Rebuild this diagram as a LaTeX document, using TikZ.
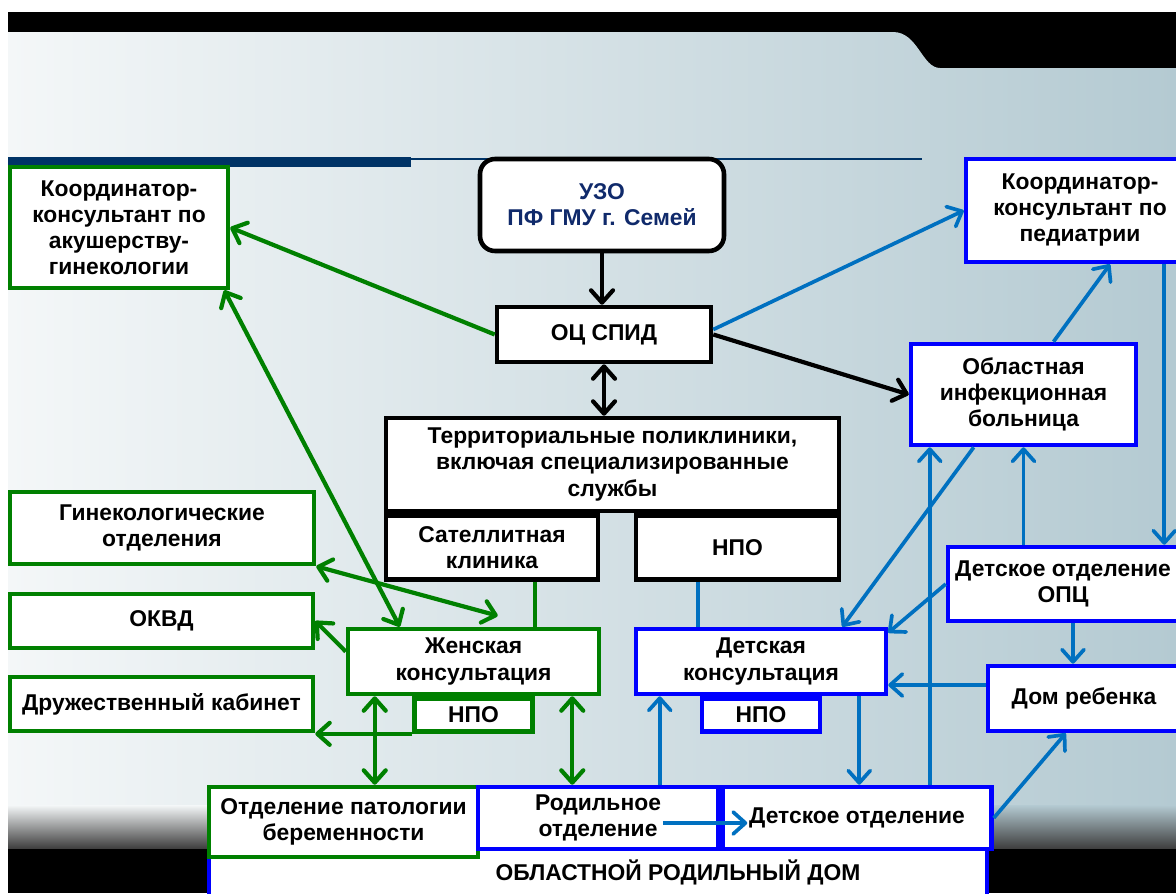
\documentclass[tikz,border=0pt]{standalone}
\usepackage{fontspec}
\setmainfont{Liberation Sans}
\usepackage{xcolor}
\definecolor{orgGreen}{HTML}{008000}
\definecolor{orgBlue}{HTML}{0000FF}
\definecolor{linkBlue}{HTML}{0070C0}
\definecolor{ruleNavy}{HTML}{003366}
\definecolor{uzoText}{HTML}{102A6B}
\definecolor{panelLeft}{HTML}{F4F7F8}
\definecolor{panelRight}{HTML}{B4CAD2}
\usepackage{tikz}
\usetikzlibrary{%
    arrows.meta,
    positioning,
    calc
}

\begin{document}
\begin{tikzpicture}[x=0.02cm, y=-0.02cm, node distance=0pt,
                >={Straight Barb[length=7pt,width=12.5pt,round]},
                unit/.style={rectangle, fill=white, text=black, align=center, inner sep=0pt, line width=2.6pt, font=\fontsize{13}{14.8}\selectfont\bfseries},
                greenbox/.style={unit, draw=orgGreen},
                bluebox/.style={unit, draw=orgBlue},
                blackbox/.style={unit, draw=black},
                gflow/.style={draw=orgGreen, line width=2.4pt},
                bflow/.style={draw=linkBlue, line width=2.1pt},
                kflow/.style={draw=black, line width=2.4pt}
            ]

            \useasboundingbox (0,0) rectangle (1176,893);
            \clip (0,0) rectangle (1176,893);

            % slide background
            \fill[white] (0,0) rectangle (1176,893);
            \fill[black] (8,12) rectangle (1176,893);
            \shade[left color=panelLeft, right color=panelRight] (8,848) -- (8,32) -- (893,32) .. controls (918,32) and (922,68) .. (940,68) -- (1176,68) -- (1176,848) -- cycle;
            \shade[top color=panelLeft, bottom color=black!75] (8,805) rectangle (212,848);
            \shade[top color=panelRight, bottom color=black!75] (985,805) rectangle (1176,848);
            \fill[ruleNavy] (8,157) rectangle (411,167);
            \draw[ruleNavy, line width=1.2pt] (411,159) -- (922,159);

            % maternity hospital frame
            \node (oblRod) [bluebox, minimum width=15.56cm, minimum height=2.26cm] at (598,843.5) {};
            \node (oblRodTxt) at (678,872) [font=\fontsize{13}{14.8}\selectfont\bfseries] {ОБЛАСТНОЙ РОДИЛЬНЫЙ ДОМ};

            \node (koordAG) [greenbox, minimum width=4.36cm, minimum height=2.42cm] at (119,227.5) {Координатор-\\консультант по\\акушерству-\\гинекологии};
            \node (uzo) [blackbox, rounded corners=0.3cm, minimum width=4.88cm, minimum height=1.84cm, text=uzoText] at (602,205) {УЗО\\ПФ ГМУ г. Семей};
            \node (koordPed) [bluebox, minimum width=4.56cm, minimum height=2.06cm] at (1080,210.5) {Координатор-\\консультант по\\педиатрии};

            \node (ocspid) [blackbox, minimum width=4.28cm, minimum height=1.10cm] at (604,334.5) {ОЦ СПИД};
            \node (terr) [blackbox, minimum width=9.06cm, minimum height=1.86cm] at (612.5,464.5) {Территориальные поликлиники,\\включая специализированные\\службы};
            \node (sat) [blackbox, minimum width=4.24cm, minimum height=1.28cm, below right=of terr.south west] {Сателлитная\\клиника};
            \node (npoTop) [blackbox, minimum width=4.06cm, minimum height=1.28cm, below left=of terr.south east] {НПО};

            \node (oblInf) [bluebox, minimum width=4.5cm, minimum height=2.02cm] at (1023.5,394.5) {Областная\\инфекционная\\больница};
            \node (detOPC) [bluebox, minimum width=4.6cm, minimum height=1.48cm] at (1063,584) {Детское отделение\\ОПЦ};

            \node (gyn) [greenbox, minimum width=6.08cm, minimum height=1.44cm] at (162,528) {Гинекологические\\отделения};
            \node (okvd) [greenbox, minimum width=6.06cm, minimum height=1.08cm] at (161.5,621) {ОКВД};
            \node (druzh) [greenbox, minimum width=6.06cm, minimum height=1.08cm] at (161.5,704) {Дружественный кабинет};

            \node (zhk) [greenbox, minimum width=5.02cm, minimum height=1.30cm] at (473.5,661.5) {Женская\\консультация};
            \node (npoZ) [greenbox, minimum width=2.36cm, minimum height=0.66cm, below=of zhk] {НПО};
            \node (detK) [bluebox, minimum width=5.0cm, minimum height=1.30cm] at (761,661.5) {Детская\\консультация};
            \node (npoD) [bluebox, minimum width=2.36cm, minimum height=0.66cm, below=of detK] {НПО};
            \node (domReb) [bluebox, minimum width=3.84cm, minimum height=1.30cm] at (1084,698.5) {Дом ребенка};

            \node (otdPat) [greenbox, minimum width=5.38cm, minimum height=1.40cm] at (343.5,822) {Отделение патологии\\беременности};
            \node (rodOtd) [bluebox, minimum width=4.8cm, minimum height=1.24cm] at (598,818) {Родильное\\отделение};
            \node (detOtd) [bluebox, minimum width=5.38cm, minimum height=1.24cm, right=of rodOtd] {Детское отделение};

            % green links
            \draw[gflow, ->] (ocspid.west) -- (koordAG.east);
            \draw[gflow, <->] ([xshift=1.08cm]zhk.north west) -- ([xshift=-0.12cm]koordAG.south east);
            \draw[gflow, <->] (gyn.south east) -- ([shift={(3.04cm,0.22cm)}]zhk.north west);
            \draw[gflow] ([xshift=-1.3cm]sat.south east) -- ([xshift=-1.3cm]sat.south east |- zhk.north);
            \draw[gflow, ->] ([yshift=0.2cm]zhk.west) -- (okvd.east);
            \draw[gflow, ->] (npoZ.south west) -- (npoZ.south west -| druzh.east);
            \draw[gflow, <->] ([xshift=0.58cm]zhk.south west) -- ([xshift=0.58cm]zhk.south west |- otdPat.north);
            \draw[gflow, <->] ([xshift=-0.58cm]zhk.south east) -- ([xshift=-0.58cm]zhk.south east |- rodOtd.north);

            % black links
            \draw[kflow, ->] (uzo.south) -- (uzo.south |- ocspid.north);
            \draw[kflow, <->] (ocspid.south) -- (ocspid.south |- terr.north);
            \draw[kflow, ->] (ocspid.east) -- (oblInf.west);

            % blue links
            \draw[bflow, ->] ([yshift=0.1cm]ocspid.east) -- (koordPed.west);
            \draw[bflow, ->] ([xshift=0.6cm]oblInf.north) -- ([xshift=0.6cm]koordPed.south);
            \draw[bflow, ->] ([xshift=-0.64cm]koordPed.south east) -- ([xshift=-0.64cm]koordPed.south east |- detOPC.north);
            \draw[bflow, ->] (oblInf.south |- detOPC.north) -- (oblInf.south);
            \draw[bflow, ->] ([xshift=0.42cm]oblInf.south west |- detOtd.north) -- ([xshift=0.42cm]oblInf.south west);
            \draw[bflow, ->] ([xshift=1.3cm]oblInf.south west) -- ([xshift=-0.92cm]detK.north east);
            \draw[bflow, ->] (detOPC.west) -- ([yshift=-0.12cm]detK.north east);
            \draw[bflow] ([xshift=1.28cm]npoTop.south west) -- ([xshift=1.28cm]npoTop.south west |- detK.north);
            \draw[bflow, ->] ([xshift=0.2cm]detOPC.south) -- ([xshift=0.2cm]detOPC.south |- domReb.north);
            \draw[bflow, ->] ([yshift=0.27cm]domReb.west) -- ([yshift=0.27cm]domReb.west -| detK.east);
            \draw[bflow, ->] ([xshift=0.52cm]detK.south west |- rodOtd.north) -- ([xshift=0.52cm]detK.south west);
            \draw[bflow, ->] ([xshift=-0.58cm]detK.south east) -- ([xshift=-0.58cm]detK.south east |- detOtd.north);
            \coordinate (rodArr) at ([shift={(1.3cm,-0.1cm)}]rodOtd.center);
            \coordinate (detArr) at ([shift={(0.54cm,-0.1cm)}]detOtd.west);
            \draw[bflow, ->] (rodArr) -- (detArr);
            \draw[bflow, ->] (detOtd.east) -- ([xshift=1.6cm]domReb.south west);
        \end{tikzpicture}
\end{document}
